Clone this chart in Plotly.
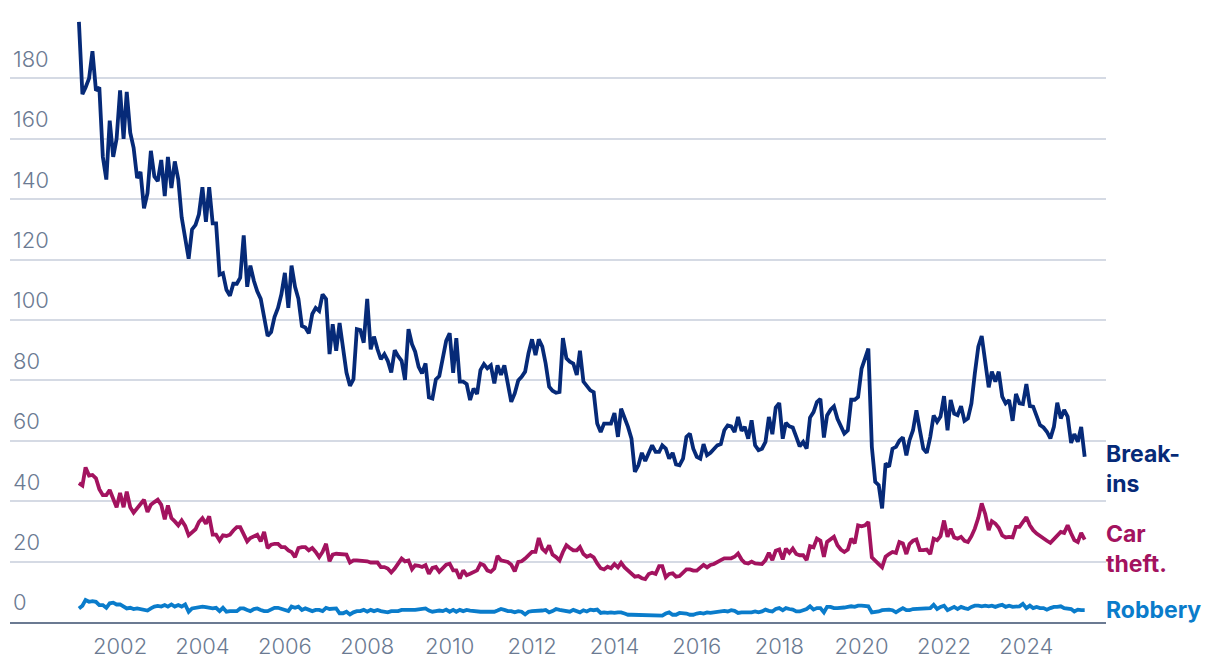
import pandas as pd
import plotly.graph_objects as go

start_month = "2001-01-01"

break_ins = [
    198.7, 174.8, 177, 180, 189, 176, 177, 154, 146.5, 166, 154, 160,
    176, 160, 175.5, 162, 157, 147, 149, 137, 142, 156, 147.5, 146,
    153, 141, 154, 143.7, 152.5, 146.5, 134, 127.5, 120.3, 130, 131.5, 135,
    144, 132.5, 144, 132, 132, 115, 115.5, 110, 108, 112, 112, 114,
    128, 111, 118, 113, 109.5, 107, 100, 94.7, 96, 101, 104, 108.5,
    115.6, 104, 118, 111, 107, 98, 97.5, 95.6, 102, 104, 103, 108.5,
    107, 88.7, 98.6, 89.8, 99, 91.4, 82.6, 78.2, 80.4, 97, 96.7, 92.5,
    107, 90.3, 94.5, 90.3, 87, 88.7, 86.5, 82.6, 90, 88, 86.5, 80.2,
    97, 92, 89.5, 84.5, 82.3, 85.6, 74.4, 74, 80.3, 81.4, 87.3, 93.1,
    95.6, 82.5, 94, 79.6, 79.6, 78.8, 73.5, 77.3, 75.5, 83.4, 85.4, 84,
    85, 79, 85, 81.8, 85, 79.6, 72.9, 75.7, 80, 81.2, 82.9, 89,
    93.6, 88.4, 93.6, 91.2, 85.6, 77.9, 76.6, 75.9, 76.2, 94, 87.3, 86.2,
    85.6, 81.8, 89.8, 79.6, 78.3, 76.7, 76.1, 65.7, 62.9, 65.7, 65.7, 65.7,
    69.2, 61.3, 70.6, 67.7, 64.6, 60.7, 49.7, 51.9, 56, 53.3, 55.8, 58.5,
    56.3, 56.3, 58.5, 57.4, 54.1, 56, 52.2, 51.9, 54.1, 61.3, 62.4, 57.4,
    54.7, 54.1, 58.9, 55.2, 56, 57.4, 58.5, 58.9, 63.5, 65.1, 64.8, 62.9,
    67.9, 63.3, 64.6, 60.7, 66.8, 58.5, 56.9, 57.4, 59.6, 67.9, 62.2, 71,
    72.5, 60.7, 65.9, 64.8, 64.4, 61.3, 58.2, 59.6, 57.4, 67.7, 69.5, 72.8,
    73.9, 61.1, 68.4, 70.3, 71.4, 67.3, 65.1, 62.4, 63.5, 73.6, 73.6, 74.5,
    83.9, 87.7, 90.5, 58, 46.4, 45.3, 37.6, 52.5, 51.4, 57.4, 58, 60,
    61.1, 55.2, 60.2, 63.5, 70.1, 63.5, 57.4, 56, 61.3, 68.4, 66.3, 68,
    74.8, 63.5, 73.5, 69, 68.5, 71.5, 66.6, 67.4, 72.4, 82.3, 91.2, 94.7,
    86.2, 77.7, 82.9, 79.6, 82.9, 74.6, 72.4, 73.5, 66.6, 75.5, 72.4, 72.2,
    78.8, 71.5, 71.3, 68.5, 65.2, 64.4, 63, 60.8, 64.6, 72.6, 67.4, 70.2,
    68, 59.3, 62.2, 59.7, 64.6, 54.7,
]

car_theft = [
    46, 45.2, 51.2, 48.5, 48.7, 47.6, 44, 42, 42, 43.7, 40.8, 38,
    42.7, 38, 43.2, 38, 36.2, 37.5, 38.8, 40.5, 36.4, 38.8, 39.7, 40.5,
    38.8, 34, 38.6, 34.4, 33.3, 32, 33.6, 31.8, 28.7, 29.6, 30.7, 33.1,
    34.4, 32.5, 35, 28.9, 28.9, 27, 28.7, 28.5, 28.9, 30.3, 31.4, 31.4,
    28.7, 26.7, 27.8, 28.5, 28.9, 26.7, 29.8, 24.5, 25.6, 25.9, 25.9, 24.8,
    24.8, 23.7, 23.2, 21.5, 24.5, 24.8, 24.8, 23.7, 24.5, 23.2, 21.5, 23.2,
    25.9, 20.1, 22.3, 22.6, 22.6, 22.3, 22.3, 19.7, 20.4, 20.4, 20.4, 20.4,
    20.1, 19.7, 19.7, 19.7, 18.2, 18.2, 17.7, 16.4, 17.7, 19.3, 21, 20.1,
    20.4, 17.5, 18.8, 18.6, 18.2, 18.8, 16, 17.9, 18.2, 16.6, 17.7, 19,
    19.3, 17.1, 17.1, 14.4, 17.1, 15.5, 16, 16.4, 17.1, 19.3, 18.8, 17.1,
    16.6, 17.7, 21.9, 20.4, 20.1, 19.9, 19, 16.8, 19.9, 20.1, 21, 22.1,
    23.2, 23.2, 27.8, 24.3, 23.2, 25.4, 22.3, 21.5, 20.4, 23.2, 25.4, 24.5,
    23.7, 23.7, 24.8, 22.5, 21.6, 22.1, 21.4, 19.4, 17.8, 17.4, 18.3, 17.8,
    19.2, 18.1, 19.6, 18.1, 17, 16.1, 15, 15.2, 14.5, 14.2, 15.9, 16.3,
    15.9, 18.5, 18.5, 14.8, 15.9, 16.1, 15, 15.2, 16.3, 17.4, 17.4, 17,
    17, 17.8, 18.9, 18.1, 18.9, 19.2, 20, 20.5, 21.1, 21.1, 21.1, 21.6,
    22.7, 20.7, 19.6, 19.4, 20, 19.4, 19.2, 19.2, 20.5, 22.9, 20.5, 23.6,
    24, 20.7, 24.3, 22.9, 24.3, 22.5, 22.1, 22.1, 20.5, 25.1, 24.7, 27.6,
    26.9, 21.6, 26.5, 27.3, 28.2, 25.4, 24, 23.2, 24, 27.6, 26, 32,
    31.7, 32, 33.1, 21.4, 20.5, 19.2, 18.1, 21.6, 22.5, 23.2, 22.9, 26.5,
    26, 22.5, 25.8, 26.9, 27.3, 23.8, 23.8, 24, 22.5, 27.6, 27.1, 28.4,
    33.6, 28.2, 30.9, 28, 27.6, 28.2, 26.9, 26.5, 28.4, 30.9, 34.5, 39.3,
    35.8, 30.4, 33.4, 32.6, 31.2, 28.7, 28, 28.2, 28, 31.5, 31.5, 33.1,
    34.7, 32, 30.4, 29.3, 28.4, 27.6, 26.9, 26.2, 27.3, 28.7, 29.8, 29.5,
    32, 29.3, 27.1, 26.5, 29.5, 27.3,
]

robbery = [
    4.5, 5.4, 7.3, 6.7, 6.9, 6.7, 5.6, 5.6, 4.7, 6.2, 6.4, 5.8,
    5.8, 5.1, 4.5, 4.7, 4.3, 4.5, 4.3, 4.3, 3.8, 4.5, 5.1, 5.3,
    5.1, 5.6, 5.1, 5.8, 5.1, 5.6, 5.1, 5.8, 3.4, 4.5, 4.7, 4.9,
    5.1, 4.9, 4.7, 4.5, 4.7, 3.6, 4.7, 3.4, 3.6, 3.6, 3.6, 4.5,
    4.5, 4, 3.6, 4.3, 4.5, 4, 3.6, 3.6, 4, 4.7, 4.7, 4.3,
    4, 3.6, 5.1, 4.7, 5.1, 4, 4.5, 4, 3.6, 4, 4, 3.6,
    4.7, 4.3, 4.3, 4.5, 2.9, 2.9, 3.4, 2.5, 3.2, 3.6, 3.6, 4,
    3.4, 4, 3.6, 4, 3.6, 3.4, 3.2, 3.6, 3.6, 3.6, 4, 4,
    3.8, 4, 4, 4.2, 4.3, 4.5, 3.8, 3.4, 3.6, 3.8, 3.6, 4.1,
    3.4, 4, 3.4, 4, 3.6, 4, 3.8, 3.6, 3.6, 3.4, 3.4, 3.4,
    3.4, 3.4, 3.8, 4.3, 4, 3.6, 3.6, 3.2, 3.6, 3.4, 2.5, 3.4,
    3.6, 3.6, 3.6, 3.8, 4, 3.2, 3.6, 4.3, 4, 3.8, 3.6, 3.4,
    4, 3.4, 3.2, 3.9, 3.5, 4.1, 3.9, 4.1, 3, 3.2, 3, 3.2,
    3, 3.2, 3.2, 2.8, 2.4, 2.4, 2.4, 2.4, 2.4, 2.4, 2.4, 2.4,
    2.1, 2.4, 2.1, 2.8, 3.2, 2.4, 2.4, 3, 3, 2.8, 2.4, 2.4,
    2.8, 3, 2.8, 3.2, 3, 3.2, 3.5, 3.7, 3.7, 3.5, 3.9, 3.7,
    3, 3.2, 3.2, 3, 3.2, 3.5, 3.2, 3.5, 4.1, 3.7, 3.5, 4.3,
    4.6, 3.9, 4.6, 4.3, 4.1, 3.5, 3.5, 3.9, 4.3, 5.2, 4.1, 4.6,
    4.6, 3.2, 5, 5, 4.6, 4.6, 4.6, 4.8, 5, 5.2, 5, 5.4,
    5.4, 5.2, 5.2, 3.2, 3.2, 3.5, 3.9, 4.1, 4.1, 3.9, 3.2, 3.9,
    4.6, 3.9, 3.9, 4.3, 4.3, 4.6, 4.6, 4.3, 4.6, 5.7, 4.3, 5,
    5.4, 3.9, 4.6, 5, 4.3, 5, 4.6, 4.3, 5, 5.4, 5.4, 5.2,
    5.4, 5.2, 5.4, 5, 5.4, 5.7, 5, 5.4, 5, 5.2, 5.2, 6,
    4.6, 5.4, 4.6, 5, 4.6, 4.6, 4.1, 4.6, 5, 5, 5.2, 4.6,
    4.6, 4.3, 3.5, 4.1, 3.9, 3.9,
]

series_names = ["Break-<br>ins", "Car<br>theft.", "Robbery"]
series_colors = ["#062a78", "#a3135f", "#0a7ccb"]
y_ticks = [0, 20, 40, 60, 80, 100, 120, 140, 160, 180]

dates = pd.date_range(start_month, periods=len(break_ins), freq="MS")

fig = go.Figure()
for vals, color in zip([break_ins, car_theft, robbery], series_colors):
    fig.add_trace(go.Scatter(
        x=dates, y=vals, mode="lines",
        line=dict(color=color, width=3.8),
        showlegend=False, hoverinfo="skip",
    ))

label_offsets = [-4, -3, 0]
for vals, name, color, off in zip([break_ins, car_theft, robbery], series_names, series_colors, label_offsets):
    fig.add_annotation(
        x=1.0, xref="paper", y=vals[-1] + off, yref="y",
        text=f"<b>{name}</b>", showarrow=False,
        xanchor="left", yanchor="middle", align="left",
        xshift=-2,
        font=dict(family="Inter", size=23, color=color),
    )

tick_font = dict(family="Inter", size=22, color="#6b7a92", weight=300)

fig.update_layout(
    width=1220, height=668,
    margin=dict(l=2, r=122, t=10, b=54),
    paper_bgcolor="white", plot_bgcolor="white",
    font=dict(family="Inter", size=22, color="#6b7a92"),
    xaxis=dict(
        range=["1999-05-01", "2025-12-07"],
        tickformat="%Y", dtick="M24", tick0="2002-01-01",
        showgrid=False, zeroline=False,
        showline=True, linecolor="#6b7a92", linewidth=2,
        ticks="", ticklabelstandoff=4,
        tickfont=tick_font,
    ),
    yaxis=dict(
        range=[0, 200],
        tickvals=y_ticks,
        ticklabelposition="inside top",
        ticklabelshift=-4,
        showgrid=True, gridcolor="#d5dae4", gridwidth=2,
        zeroline=False, showline=False, ticks="",
        tickfont=tick_font,
    ),
)

fig.write_html("out.html")
